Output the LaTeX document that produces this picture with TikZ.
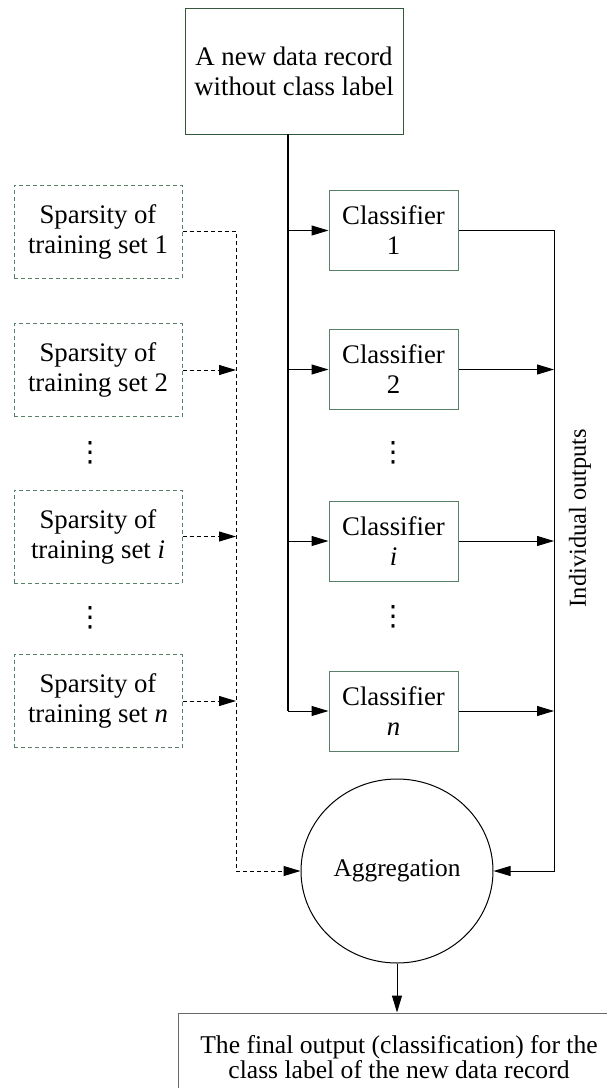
\documentclass[tikz,border=0pt]{standalone}
\usepackage{fontspec}
\setmainfont{Liberation Serif}
\newfontfamily\dotsfont{DejaVu Sans}
\usetikzlibrary{shapes.geometric, arrows.meta, positioning}
\definecolor{boxgreen}{RGB}{88,128,102}
\definecolor{darkgreen}{RGB}{50,88,62}
\definecolor{boxgray}{RGB}{105,105,105}

\begin{document}
\begin{tikzpicture}[x=0.5pt, y=-0.5pt,
  font=\fontsize{13.4}{15}\selectfont,
  line width=0.5pt,
  arr/.style={-{Triangle[length=8.5pt,width=5pt]}},
  dashline/.style={dash pattern=on 2pt off 1.5pt},
  classbox/.style={draw=boxgreen, align=center, inner sep=0pt,
    minimum width=64.5pt, minimum height=40pt},
  sparsebox/.style={draw=boxgreen, dashline, align=center, inner sep=0pt,
    minimum width=84pt, minimum height=46.5pt},
  dotnode/.style={inner sep=0pt, font=\dotsfont\fontsize{14}{14}\selectfont}]

  \useasboundingbox (0,0) rectangle (606,1088);

  % input record
  \node[draw=darkgreen, align=center, inner sep=0pt,
    minimum width=109pt, minimum height=63pt] (rec) at (294,71)
    {A new data record\\without class label};

  % classifiers
  \node[classbox] (c1) at (393.5,230.5) {Classifier\\1};
  \node[classbox] (c2) at (393.5,369.5) {Classifier\\2};
  \node[classbox] (ci) at (393.5,541) {Classifier\\\textit{i}};
  \node[classbox] (cn) at (393.5,711) {Classifier\\\textit{n}};
  \node[dotnode] (cd1) at (393,453) {⋮};
  \node[dotnode] (cd2) at (393,617) {⋮};

  % sparsity of the training sets
  \node[sparsebox] (s1) at (98,231.5) {Sparsity of\\training set 1};
  \node[sparsebox] (s2) at (98,370) {Sparsity of\\training set 2};
  \node[sparsebox] (si) at (98,536.5) {Sparsity of\\training set \textit{i}};
  \node[sparsebox] (sn) at (98,701) {Sparsity of\\training set \textit{n}};
  \node[dotnode] (sd1) at (90,453) {⋮};
  \node[dotnode] (sd2) at (90,618) {⋮};

  % aggregation and final output
  \node[draw, ellipse, inner sep=0pt, minimum width=96pt, minimum height=92pt,
    font=\fontsize{12.7}{15}\selectfont] (agg) at (397,871) {Aggregation};
  \node[draw=boxgray, align=center, inner sep=0pt, minimum width=221pt,
    minimum height=44pt, font=\fontsize{12.8}{12.5}\selectfont] (out) at (399,1057)
    {The final output (classification) for the\\class label of the new data record};

  \node[rotate=90, font=\fontsize{12.2}{15}\selectfont] (lbl) at (580,518) {Individual outputs};

  \coordinate (trunk) at (288,134);
  \coordinate (rbus) at (554,0);
  \coordinate (lbus) at (236,0);

  % record to classifiers
  \draw[line width=1pt] (trunk) -- (trunk |- cn);
  \foreach \c in {c1,c2,ci,cn}
    \draw[arr] (trunk |- \c) -- (\c);

  % classifiers to aggregation
  \draw[arr] (c1) -- (c1 -| rbus) |- (agg);
  \foreach \c in {c2,ci,cn}
    \draw[arr] (\c) -- (\c -| rbus);

  % sparsity to aggregation
  \draw[arr, dashline] (s1) -- (s1 -| lbus) |- (agg);
  \foreach \s in {s2,si,sn}
    \draw[arr, dashline] (\s) -- (\s -| lbus);

  \draw[arr] (agg.south) -- (agg.south |- out.north);
\end{tikzpicture}
\end{document}
